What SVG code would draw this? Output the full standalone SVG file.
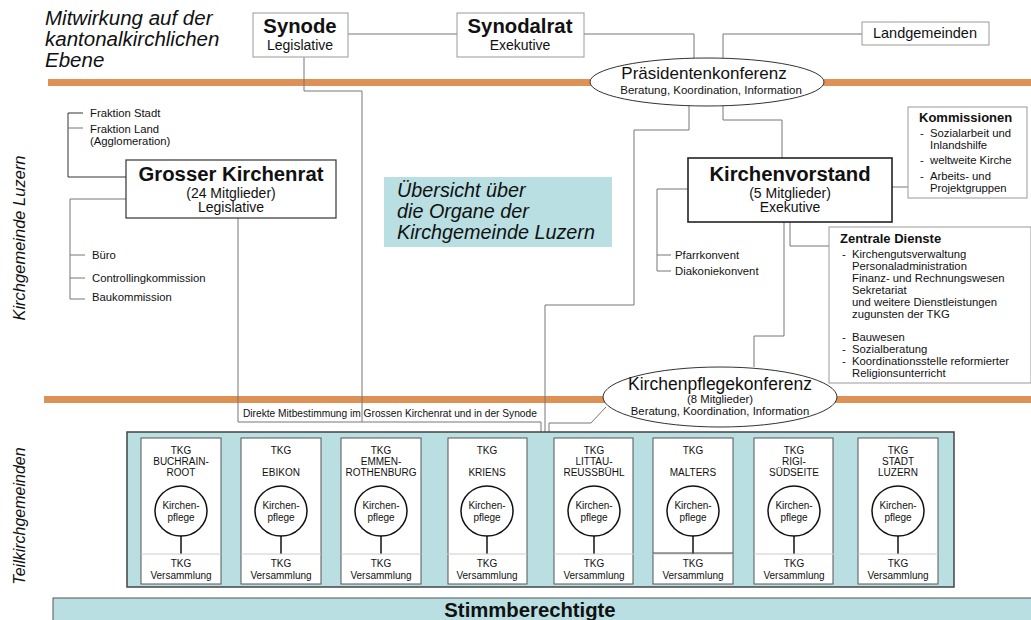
<svg xmlns="http://www.w3.org/2000/svg" width="1031" height="620" viewBox="0 0 1031 620">
<style>
text{font-family:"Liberation Sans",Arial,sans-serif;fill:#111}
.t{font-weight:bold;font-size:20.3px;text-anchor:middle}
.s{font-size:14px;text-anchor:middle}
.sm{font-size:11.3px}
.it{font-style:italic}
.box{fill:#fff;stroke:#999;stroke-width:1}
.dbox{fill:#fff;stroke:#333;stroke-width:1.2}
.ln{fill:none;stroke:#777;stroke-width:1}
.dk{fill:none;stroke:#333;stroke-width:1}
.bar{fill:#dd9155}
.teal{fill:#b9dfe2}
.tkg{fill:#fff;stroke:#555;stroke-width:1}
.tt{font-size:10px;text-anchor:middle}
.kp{fill:#fff;stroke:#111;stroke-width:1.5}
.stem{stroke:#111;stroke-width:1.5}
.sep{stroke:#ccc;stroke-width:1}
</style>
<rect width="1031" height="620" fill="#fff"/>

<!-- orange bars -->
<rect class="bar" x="48" y="79" width="983" height="7"/>
<rect class="bar" x="44" y="396" width="987" height="7"/>

<!-- side labels -->
<text class="it" font-size="20.5" x="45" y="25">Mitwirkung auf der</text>
<text class="it" font-size="20.5" x="45" y="46">kantonalkirchlichen</text>
<text class="it" font-size="20.5" x="45" y="67">Ebene</text>
<text class="it" font-size="16.5" text-anchor="middle" transform="translate(25,238) rotate(-90)">Kirchgemeinde Luzern</text>
<text class="it" font-size="16" text-anchor="middle" transform="translate(25,516) rotate(-90)">Teilkirchgemeinden</text>

<!-- connectors -->
<g id="connectors">
  <path class="ln" d="M348,34H457"/>
  <path class="ln" d="M584,34H694V59"/>
  <path class="ln" d="M862,34H723V58"/>
  <path class="ln" d="M304,57V91H362V422"/>
  <path class="ln" d="M238,218V422H541V432"/>
  <path class="ln" d="M689,105V130H634V305H545V432"/>
  <path class="ln" d="M723,105V120H782V158"/>
  <path class="ln" d="M892,187H908"/>
  <path class="ln" d="M790,222V246H830"/>
  <path class="ln" d="M688,189H657V271H671"/>
  <path class="ln" d="M657,255H671"/>
  <path class="ln" d="M784,222V336H754V367"/>
  <path class="ln" d="M606,407L591,423H549V432"/>
  <path class="dk" d="M83,113H68V177H126"/>
  <path class="ln" d="M68,128H83" stroke="#aaa"/>
  <path class="ln" d="M126,199H70V299H85"/>
  <path class="ln" d="M70,255H85M70,278H85"/>
</g>

<!-- Synode -->
<g id="synode">
  <rect class="box" x="253" y="13" width="95" height="44"/>
  <text class="t" x="300" y="33">Synode</text>
  <text class="s" x="300" y="50">Legislative</text>
</g>
<g id="synodalrat">
  <rect class="box" x="457" y="13" width="127" height="44"/>
  <text class="t" x="520" y="33">Synodalrat</text>
  <text class="s" x="520" y="50">Exekutive</text>
</g>
<g id="landgemeinden">
  <rect class="box" x="862" y="22" width="127" height="23"/>
  <text font-size="14.5" text-anchor="middle" x="925" y="38">Landgemeinden</text>
</g>
<g id="praesidentenkonferenz">
  <ellipse cx="707" cy="82" rx="117" ry="24" fill="#fff" stroke="#333" stroke-width="1"/>
  <text font-size="17" text-anchor="middle" x="704" y="79">Präsidentenkonferenz</text>
  <text font-size="11.5" text-anchor="middle" x="711" y="94">Beratung, Koordination, Information</text>
</g>

<!-- Grosser Kirchenrat -->
<g id="grosser-kirchenrat">
  <rect class="dbox" x="126" y="160" width="210" height="58"/>
  <text class="t" x="231" y="181">Grosser Kirchenrat</text>
  <text class="s" x="231" y="198">(24 Mitglieder)</text>
  <text class="s" x="231" y="212">Legislative</text>
</g>
<g id="fraktionen">
  <text class="sm" x="90" y="117">Fraktion Stadt</text>
  <text class="sm" x="90" y="133">Fraktion Land</text>
  <text class="sm" x="90" y="145">(Agglomeration)</text>
</g>
<g id="gkr-kommissionen">
  <text class="sm" x="92" y="259">Büro</text>
  <text class="sm" x="92" y="282">Controllingkommission</text>
  <text class="sm" x="92" y="301">Baukommission</text>
</g>

<!-- Übersicht -->
<g id="uebersicht">
  <rect class="teal" x="384" y="177" width="228" height="70"/>
  <text class="it" font-size="19.8" x="397" y="197">Übersicht über</text>
  <text class="it" font-size="19.8" x="397" y="218">die Organe der</text>
  <text class="it" font-size="19.8" x="397" y="239">Kirchgemeinde Luzern</text>
</g>

<!-- Kirchenvorstand -->
<g id="kirchenvorstand">
  <rect x="688" y="158" width="204" height="64" fill="#fff" stroke="#222" stroke-width="1.6"/>
  <text class="t" x="790" y="181">Kirchenvorstand</text>
  <text class="s" x="790" y="198">(5 Mitglieder)</text>
  <text class="s" x="790" y="212">Exekutive</text>
</g>
<g id="kommissionen">
  <rect class="box" x="908" y="107" width="119" height="91"/>
  <text font-size="13" font-weight="bold" x="919" y="122">Kommissionen</text>
  <text font-size="11.3" x="920" y="137">-</text>
  <text font-size="11.3" x="930" y="137">Sozialarbeit und</text>
  <text font-size="11.3" x="930" y="149">Inlandshilfe</text>
  <text font-size="11.3" x="920" y="164">-</text>
  <text font-size="11.3" x="930" y="164">weltweite Kirche</text>
  <text font-size="11.3" x="920" y="180">-</text>
  <text font-size="11.3" x="930" y="180">Arbeits- und</text>
  <text font-size="11.3" x="930" y="192">Projektgruppen</text>
</g>
<g id="konvente">
  <text class="sm" x="675" y="259">Pfarrkonvent</text>
  <text class="sm" x="675" y="275">Diakoniekonvent</text>
</g>
<g id="zentrale-dienste">
  <rect class="box" x="829" y="227" width="202" height="156"/>
  <text font-size="13" font-weight="bold" x="840" y="243">Zentrale Dienste</text>
  <g font-size="11.3">
    <text x="842" y="258">-</text>
    <text x="852" y="258">Kirchengutsverwaltung</text>
    <text x="852" y="270">Personaladministration</text>
    <text x="852" y="282">Finanz- und Rechnungswesen</text>
    <text x="852" y="294">Sekretariat</text>
    <text x="852" y="306">und weitere Dienstleistungen</text>
    <text x="852" y="318">zugunsten der TKG</text>
    <text x="842" y="341">-</text>
    <text x="852" y="341">Bauwesen</text>
    <text x="842" y="353">-</text>
    <text x="852" y="353">Sozialberatung</text>
    <text x="842" y="365">-</text>
    <text x="852" y="365">Koordinationsstelle reformierter</text>
    <text x="852" y="377">Religionsunterricht</text>
  </g>
</g>

<!-- Kirchenpflegekonferenz -->
<g id="kirchenpflegekonferenz">
  <ellipse cx="720" cy="397" rx="117" ry="30" fill="#fff" stroke="#333" stroke-width="1"/>
  <text font-size="17.5" text-anchor="middle" x="720" y="390">Kirchenpflegekonferenz</text>
  <text font-size="11.3" text-anchor="middle" x="720" y="403">(8 Mitglieder)</text>
  <text font-size="11.3" text-anchor="middle" x="720" y="415">Beratung, Koordination, Information</text>
</g>

<g id="direkte-mitbestimmung">
  <text font-size="10.2" x="243" y="417">Direkte Mitbestimmung im Grossen Kirchenrat und in der Synode</text>
</g>

<!-- TKG container -->
<g id="tkg-container">
  <rect class="teal" x="127" y="432" width="827" height="155" stroke="#444" stroke-width="1.5"/>
</g>

<defs>
  <g id="kpf">
    <ellipse cx="0" cy="511" rx="26" ry="25" class="kp"/>
    <text class="tt" x="0" y="509">Kirchen-</text>
    <text class="tt" x="0" y="521">pflege</text>
    <line class="stem" x1="0" y1="536" x2="0" y2="554"/>
    <line class="sep" x1="-40" y1="554" x2="40" y2="554"/>
    <text class="tt" font-size="10.5" x="0" y="567">TKG</text>
    <text class="tt" x="0" y="579">Versammlung</text>
  </g>
</defs>

<g id="tkg-buchrain-root">
  <rect class="tkg" x="141" y="438" width="80" height="146"/>
  <use href="#kpf" x="181"/>
  <text class="tt" x="181" y="454">TKG</text>
  <text class="tt" x="181" y="465">BUCHRAIN-</text>
  <text class="tt" x="181" y="476">ROOT</text>
</g>
<g id="tkg-ebikon">
  <rect class="tkg" x="241" y="438" width="80" height="146"/>
  <use href="#kpf" x="281"/>
  <text class="tt" x="281" y="454">TKG</text>
  <text class="tt" x="281" y="476">EBIKON</text>
</g>
<g id="tkg-emmen-rothenburg">
  <rect class="tkg" x="341" y="438" width="80" height="146"/>
  <use href="#kpf" x="381"/>
  <text class="tt" x="381" y="454">TKG</text>
  <text class="tt" x="381" y="465">EMMEN-</text>
  <text class="tt" x="381" y="476">ROTHENBURG</text>
</g>
<g id="tkg-kriens">
  <rect class="tkg" x="448" y="438" width="79" height="146"/>
  <use href="#kpf" x="487"/>
  <text class="tt" x="487" y="454">TKG</text>
  <text class="tt" x="487" y="476">KRIENS</text>
</g>
<g id="tkg-littau-reussbuehl">
  <rect class="tkg" x="554" y="438" width="79" height="146"/>
  <use href="#kpf" x="594"/>
  <text class="tt" x="594" y="454">TKG</text>
  <text class="tt" x="594" y="465">LITTAU-</text>
  <text class="tt" x="594" y="476">REUSSBÜHL</text>
</g>
<g id="tkg-malters">
  <rect class="tkg" x="653" y="438" width="80" height="146" stroke="#222"/>
  <use href="#kpf" x="693"/>
  <line x1="653" y1="553" x2="733" y2="553" stroke="#444"/>
  <text class="tt" x="693" y="454">TKG</text>
  <text class="tt" x="693" y="476">MALTERS</text>
</g>
<g id="tkg-rigi-suedseite">
  <rect class="tkg" x="754" y="438" width="79" height="146"/>
  <use href="#kpf" x="794"/>
  <text class="tt" x="794" y="454">TKG</text>
  <text class="tt" x="794" y="465">RIGI-</text>
  <text class="tt" x="794" y="476">SÜDSEITE</text>
</g>
<g id="tkg-stadt-luzern">
  <rect class="tkg" x="858" y="438" width="80" height="146"/>
  <use href="#kpf" x="898"/>
  <text class="tt" x="898" y="454">TKG</text>
  <text class="tt" x="898" y="465">STADT</text>
  <text class="tt" x="898" y="476">LUZERN</text>
</g>

<!-- Stimmberechtigte -->
<g id="stimmberechtigte">
  <rect class="teal" x="53" y="598" width="990" height="30" stroke="#555" stroke-width="1"/>
  <text class="t" font-size="21" x="530" y="617">Stimmberechtigte</text>
</g>
</svg>
